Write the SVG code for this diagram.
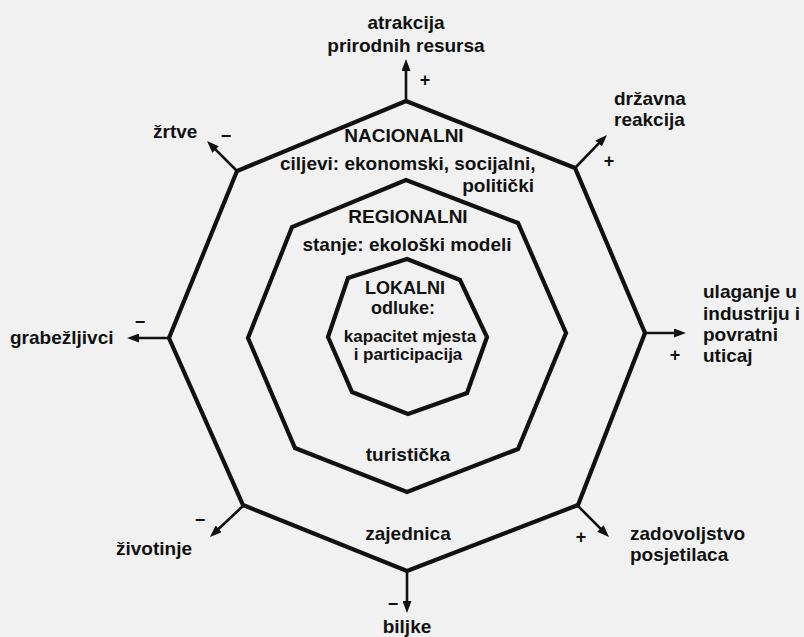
<svg xmlns="http://www.w3.org/2000/svg" width="804" height="637" viewBox="0 0 804 637">
<defs>
<style>
.ring{fill:none;stroke:#111;stroke-width:4.2;stroke-linejoin:miter}
.arr{stroke:#111;stroke-width:2.6;fill:none;marker-end:url(#ah)}
text{font-family:"Liberation Sans",Arial,sans-serif;font-weight:bold;fill:#111}
.lb{font-size:19px}
.lk{font-size:18px}
.c{text-anchor:middle}
.e{text-anchor:end}
.sm{font-size:17px}
.sg{font-size:18px;text-anchor:middle}
</style>
<marker id="ah" markerUnits="userSpaceOnUse" markerWidth="12" markerHeight="9" refX="4" refY="4.5" orient="auto">
<path d="M0,0 L12,4.5 L0,9 Z" fill="#111"/>
</marker>
</defs>
<rect width="804" height="637" fill="#f1f1f1"/>

<g id="nacionalni">
<polygon class="ring" points="406,101 575,168 645,333 578,505 407,571 243,505 169,338 237,171"/>
<text class="lb c" x="404" y="142">NACIONALNI</text>
<text class="lb" x="280" y="170">ciljevi: ekonomski, socijalni,</text>
<text class="lb e" x="534" y="192">politički</text>
<text class="lb c" x="408" y="540">zajednica</text>
</g>

<g id="regionalni">
<polygon class="ring" points="406,180 518,223 566,333 518,449 407,492 295,448 248,338 292,227"/>
<text class="lb c" x="408" y="223">REGIONALNI</text>
<text class="lb c" x="407" y="251">stanje: ekološki modeli</text>
<text class="lb c" x="408" y="461">turistička</text>
</g>

<g id="lokalni">
<polygon class="ring" points="407,259 460,280 487,337 467,393 408,414 352,392 328,337 348,278"/>
<text class="lk c" x="405" y="294">LOKALNI</text>
<text class="lk c" x="403" y="314">odluke:</text>
<text class="sm c" x="410" y="342">kapacitet mjesta</text>
<text class="sm c" x="408" y="360">i participacija</text>
</g>

<g id="connectors">
<line class="arr" x1="406" y1="101" x2="406" y2="67"/>
<line class="arr" x1="575" y1="168" x2="601.4" y2="140.7"/>
<line class="arr" x1="237" y1="171" x2="212.7" y2="146.7"/>
<line class="arr" x1="169" y1="338" x2="135" y2="338"/>
<line class="arr" x1="645" y1="333" x2="678" y2="333"/>
<line class="arr" x1="243" y1="506" x2="215.8" y2="531.5"/>
<line class="arr" x1="407" y1="571" x2="407" y2="605"/>
<line class="arr" x1="578" y1="506" x2="603.3" y2="531.3"/>
</g>

<g id="atrakcija">
<text class="lb c" x="406" y="29">atrakcija</text>
<text class="lb c" x="406" y="52">prirodnih resursa</text>
<text class="sg" x="425" y="86">+</text>
</g>

<g id="drzavna">
<text class="lb" x="614" y="105">državna</text>
<text class="lb" x="614" y="126">reakcija</text>
<text class="sg" x="609" y="167">+</text>
</g>

<g id="zrtve">
<text class="lb" x="153" y="138">žrtve</text>
<text class="sg" x="226" y="142">−</text>
</g>

<g id="grabezljivci">
<text class="lb" x="10" y="344">grabežljivci</text>
<text class="sg" x="140" y="328">−</text>
</g>

<g id="ulaganje">
<text class="lb" x="703" y="298">ulaganje u</text>
<text class="lb" x="703" y="320">industriju i</text>
<text class="lb" x="703" y="341">povratni</text>
<text class="lb" x="703" y="362">uticaj</text>
<text class="sg" x="675" y="361">+</text>
</g>

<g id="zivotinje">
<text class="lb" x="116" y="555">životinje</text>
<text class="sg" x="200" y="526">−</text>
</g>

<g id="biljke">
<text class="lb c" x="407" y="633">biljke</text>
<text class="sg" x="393" y="610">−</text>
</g>

<g id="zadovoljstvo">
<text class="lb" x="630" y="540">zadovoljstvo</text>
<text class="lb" x="630" y="561">posjetilaca</text>
<text class="sg" x="581" y="543">+</text>
</g>
</svg>
